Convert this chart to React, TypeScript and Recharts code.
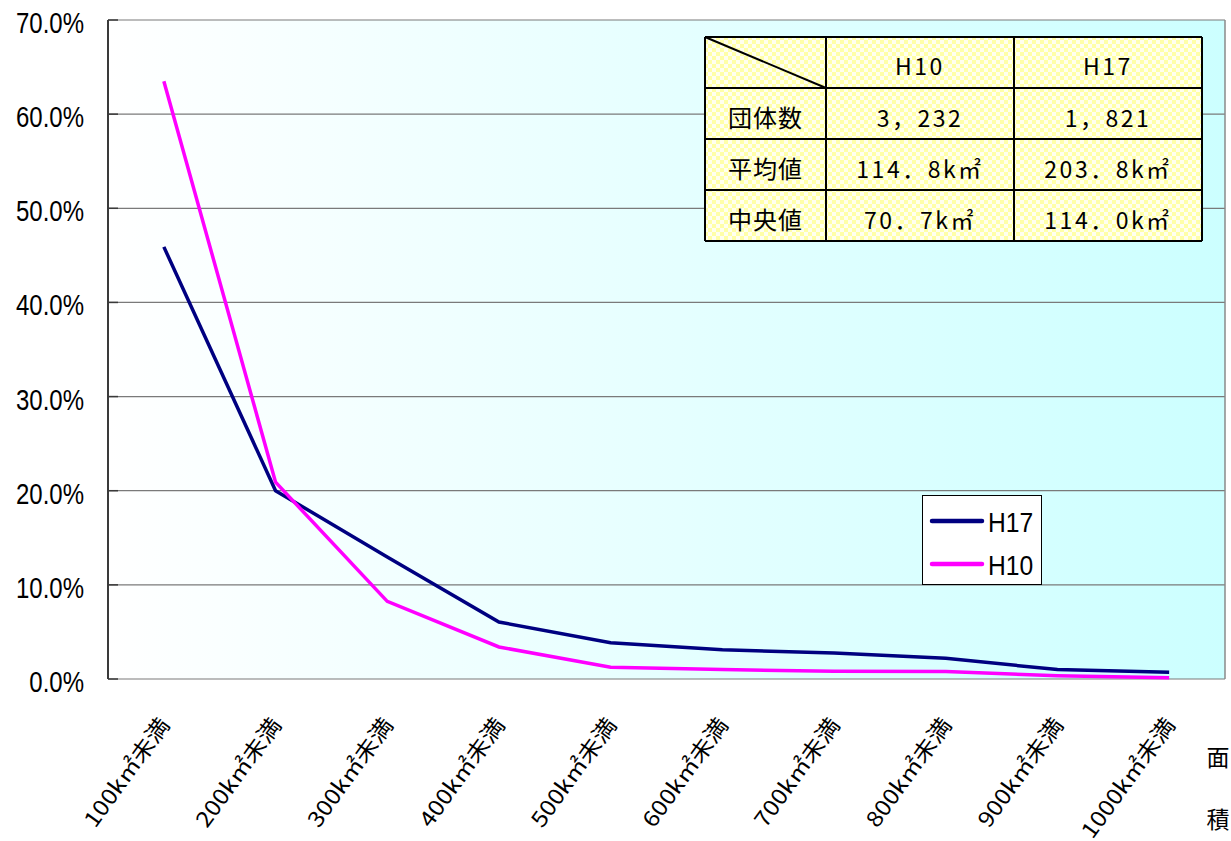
import React from 'react';
import { LineChart, Line, XAxis, YAxis, CartesianGrid, Legend } from 'recharts';

// Area classes (upper bound of each class)
const categories = [
  '100k㎡未満', '200k㎡未満', '300k㎡未満', '400k㎡未満', '500k㎡未満',
  '600k㎡未満', '700k㎡未満', '800k㎡未満', '900k㎡未満', '1000k㎡未満',
];

// Share of municipalities in each area class (%)
const h17Values = [45.9, 20.0, 12.95, 6.05, 3.85, 3.1, 2.75, 2.2, 1.0, 0.72];
const h10Values = [63.5, 20.9, 8.25, 3.4, 1.26, 1.0, 0.83, 0.8, 0.34, 0.13];

const seriesOrder = ['H17', 'H10'];

const yTicks = [0, 10, 20, 30, 40, 50, 60, 70];
const classBoundaries = [1, 2, 3, 4, 5, 6, 7, 8, 9];

// Summary table
const tableColumns = ['H10', 'H17'];
const tableRowLabels = ['団体数', '平均値', '中央値'];
const tableH10 = ['3，232', '114．8k㎡', '70．7k㎡'];
const tableH17 = ['1，821', '203．8k㎡', '114．0k㎡'];

const axisTitleChars = ['面', '積'];

const data = categories.map((cat, i) => ({ cat, H17: h17Values[i], H10: h10Values[i] }));

const W = 1231;
const H = 841;

const sansFont = "'Liberation Sans', Arial, sans-serif";
const cjkFont = "'Noto Sans CJK JP', 'Noto Sans', sans-serif";

const YTick = (props: any) => {
  const { x, y, payload } = props;
  return (
    <text
      transform={`translate(${x},${y + 13}) scale(0.8,1)`}
      textAnchor="end"
      fontSize={30}
      fontFamily={sansFont}
      fill="#000"
    >
      {`${Number(payload.value).toFixed(1)}%`}
    </text>
  );
};

const XTick = (props: any) => {
  const { x, y, payload } = props;
  return (
    <text
      transform={`translate(${x + 7},${y + 46}) rotate(-54) scale(1.12,1)`}
      textAnchor="end"
      fontSize={22}
      fontFamily={cjkFont}
      fill="#000"
    >
      {payload.value}
    </text>
  );
};

const EmptyTick = () => <g />;

const LegendBox = (props: any) => {
  const payload = [...(props.payload || [])].sort(
    (a: any, b: any) => seriesOrder.indexOf(a.value) - seriesOrder.indexOf(b.value)
  );
  return (
    <div
      style={{
        width: 120,
        height: 90,
        background: '#fff',
        border: '1px solid #000',
        boxSizing: 'border-box',
      }}
    >
      <svg width={118} height={88} style={{ display: 'block' }}>
        {payload.map((p: any, i: number) => (
          <g key={p.value}>
            <line
              x1={9}
              x2={59}
              y1={25 + i * 43}
              y2={25 + i * 43}
              stroke={p.color}
              strokeWidth={4.5}
              strokeLinecap="round"
            />
            <text
              transform={`translate(65,${36 + i * 43}) scale(0.88,1)`}
              fontSize={28}
              fontFamily={sansFont}
              fill="#000"
            >
              {p.value}
            </text>
          </g>
        ))}
      </svg>
    </div>
  );
};

// Table layout
const tblX = [705, 826, 1014, 1202];
const tblY = [37, 88, 139, 190, 241];

const SummaryTable = () => {
  const colCenter = (c: number) => (tblX[c] + tblX[c + 1]) / 2;
  const rowCenter = (r: number) => (tblY[r] + tblY[r + 1]) / 2;
  const valueStyle = {
    fontSize: 23,
    fontFamily: cjkFont,
    letterSpacing: 2.5,
  } as React.CSSProperties;
  return (
    <g>
      <defs>
        <pattern id="tblCheck" width={8} height={8} patternUnits="userSpaceOnUse">
          <rect width={8} height={8} fill="#fffff0" />
          <rect width={4} height={4} fill="#ffffa8" />
          <rect x={4} y={4} width={4} height={4} fill="#ffffa8" />
        </pattern>
      </defs>
      <rect
        x={tblX[0]}
        y={tblY[0]}
        width={tblX[3] - tblX[0]}
        height={tblY[4] - tblY[0]}
        fill="url(#tblCheck)"
      />
      {tblX.map((x) => (
        <line key={`v${x}`} x1={x} x2={x} y1={tblY[0]} y2={tblY[4]} stroke="#000" strokeWidth={2} />
      ))}
      {tblY.map((y) => (
        <line key={`h${y}`} x1={tblX[0]} x2={tblX[3]} y1={y} y2={y} stroke="#000" strokeWidth={2} />
      ))}
      <line x1={tblX[0]} y1={tblY[0]} x2={tblX[1]} y2={tblY[1]} stroke="#000" strokeWidth={2} />
      {tableColumns.map((c, i) => (
        <text key={c} x={colCenter(i + 1)} y={rowCenter(0) + 12} textAnchor="middle" style={valueStyle}>
          {c}
        </text>
      ))}
      {tableRowLabels.map((label, r) => (
        <g key={label}>
          <text
            x={colCenter(0)}
            y={rowCenter(r + 1) + 13}
            textAnchor="middle"
            style={{ fontSize: 24, fontFamily: cjkFont, letterSpacing: 1 }}
          >
            {label}
          </text>
          <text x={colCenter(1)} y={rowCenter(r + 1) + 13} textAnchor="middle" style={valueStyle}>
            {tableH10[r]}
          </text>
          <text x={colCenter(2)} y={rowCenter(r + 1) + 13} textAnchor="middle" style={valueStyle}>
            {tableH17[r]}
          </text>
        </g>
      ))}
    </g>
  );
};

export default function App() {
  return (
    <div
      style={{
        position: 'absolute',
        left: 0,
        top: 0,
        width: W,
        height: H,
        background: '#fff',
        overflow: 'hidden',
      }}
    >
      <LineChart width={W} height={H} data={data} margin={{ top: 20, right: 0, bottom: 0, left: 0 }}>
        <defs>
          <linearGradient id="plotBg" x1="0" y1="0" x2="1" y2="0">
            <stop offset="0%" stopColor="#ffffff" />
            <stop offset="100%" stopColor="#ccffff" />
          </linearGradient>
        </defs>
        <CartesianGrid
          xAxisId="cat"
          yAxisId="left"
          vertical={false}
          fill="url(#plotBg)"
          fillOpacity={1}
          stroke="#7a7a7a"
          strokeWidth={1.2}
        />
        <XAxis
          xAxisId="bounds"
          type="number"
          domain={[0, 10]}
          allowDataOverflow
          ticks={classBoundaries}
          height={0}
          tick={EmptyTick}
          tickSize={-10}
          axisLine={{ stroke: '#3a3a3a', strokeWidth: 2 }}
          tickLine={{ stroke: '#3a3a3a', strokeWidth: 1.5 }}
        />
        <XAxis
          xAxisId="cat"
          dataKey="cat"
          scale="band"
          height={162}
          interval={0}
          axisLine={false}
          tickLine={false}
          tickSize={0}
          tickMargin={0}
          tick={XTick}
        />
        <YAxis
          yAxisId="left"
          width={108}
          domain={[0, 70]}
          ticks={yTicks}
          interval={0}
          tick={YTick}
          tickSize={-10}
          tickMargin={34}
          axisLine={{ stroke: '#3a3a3a', strokeWidth: 2 }}
          tickLine={{ stroke: '#3a3a3a', strokeWidth: 1.5 }}
        />
        <YAxis
          yAxisId="right"
          orientation="right"
          width={6}
          domain={[0, 70]}
          tick={false}
          tickLine={false}
          axisLine={{ stroke: '#8a8a8a', strokeWidth: 1.5 }}
        />
        <Line
          xAxisId="cat"
          yAxisId="left"
          type="linear"
          dataKey="H17"
          name="H17"
          stroke="#000080"
          strokeWidth={3.5}
          dot={false}
          activeDot={false}
          isAnimationActive={false}
        />
        <Line
          xAxisId="cat"
          yAxisId="left"
          type="linear"
          dataKey="H10"
          name="H10"
          stroke="#ff00ff"
          strokeWidth={3.5}
          dot={false}
          activeDot={false}
          isAnimationActive={false}
        />
        <Legend
          layout="vertical"
          align="center"
          verticalAlign="middle"
          content={LegendBox}
          wrapperStyle={{ position: 'absolute', left: 922, top: 495, width: 120, height: 90 }}
        />
      </LineChart>
      <svg
        width={W}
        height={H}
        style={{ position: 'absolute', left: 0, top: 0, pointerEvents: 'none' }}
      >
        <SummaryTable />
        {axisTitleChars.map((ch, i) => (
          <text
            key={ch}
            x={1218}
            y={766 + i * 62}
            textAnchor="middle"
            fontSize={23}
            fontFamily={cjkFont}
            fill="#000"
          >
            {ch}
          </text>
        ))}
      </svg>
    </div>
  );
}
